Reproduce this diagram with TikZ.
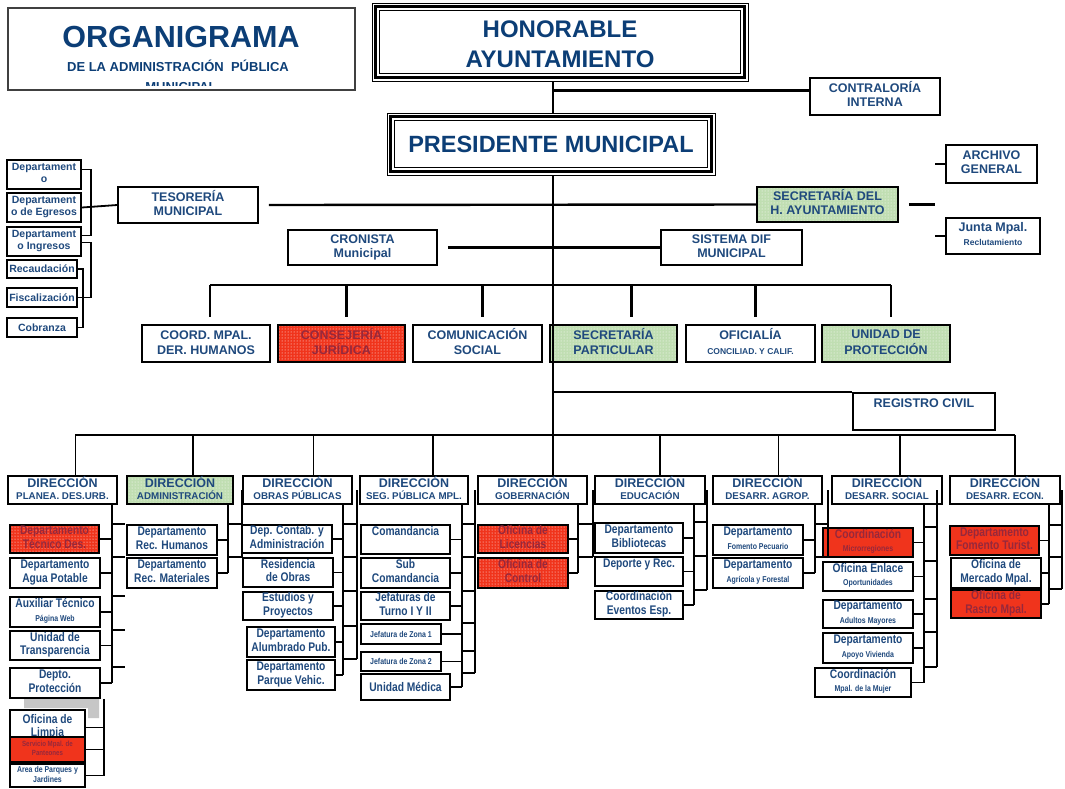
\documentclass[tikz,border=0pt]{standalone}
\usepackage{fontspec}
\setmainfont{Liberation Sans}
\newfontfamily\narrowfont{Liberation Sans}[FakeStretch=0.82]
\usetikzlibrary{patterns}
\definecolor{orgblue}{RGB}{31,73,125}
\definecolor{titleblue}{RGB}{12,62,118}
\definecolor{orgred}{RGB}{240,52,28}
\definecolor{orggreen}{RGB}{192,222,178}
\definecolor{redtext}{RGB}{150,40,60}
\newcommand{\orgsmall}[1]{{\fontsize{8.5}{9.5}\selectfont #1}}
\newcommand{\dsub}[1]{{\fontsize{9.8}{10.5}\selectfont #1}}
\newcommand{\ml}[1]{\begin{tabular}{@{}c@{}}#1\end{tabular}}
\tikzset{
  corners/.style n args={4}{minimum width={#3-#1}, minimum height={#4-#2},
    at={({(#1+#3)/2},{(#2+#4)/2})}},
  box/.style={draw, line width=1.6pt, inner sep=0pt, text=orgblue},
  plainbox/.style={box, fill=white},
  greenbox/.style={box, preaction={fill=orggreen}, pattern=dots, pattern color=white},
  redbox/.style={box, preaction={fill=orgred}, pattern=dots, pattern color=white, text=redtext},
  solidred/.style={box, fill=orgred, text=redtext},
  headfont/.style={font=\fontsize{12.5}{14}\selectfont\bfseries},
  midfont/.style={font=\fontsize{12.5}{15}\selectfont\bfseries},
  dirfont/.style={font=\fontsize{12.5}{12.5}\selectfont\bfseries},
  subfont/.style={font=\narrowfont\fontsize{12.5}{13.5}\selectfont\bfseries},
  leftfont/.style={font=\fontsize{10.5}{12}\selectfont\bfseries},
  wire/.style={line width=1.8pt},
  trunkwire/.style={line width=2.4pt},
}
\begin{document}
\begin{tikzpicture}[x=1pt, y=-1pt]
	\fill[white] (0,0) rectangle (1065,788);
	\useasboundingbox (0,0) rectangle (1065,788);

	% title block
	\node[draw, line width=1.2pt, color=black!75, inner sep=0pt, corners={8}{8}{355}{90}] (title) {};
	\node[text=titleblue, font=\fontsize{30.5}{32}\selectfont\bfseries] (orga) at (181,37) {ORGANIGRAMA};
	\node[text=titleblue, font=\fontsize{13}{14}\selectfont\bfseries] (orgb) at (178,66) {DE LA ADMINISTRACIÓN\ \ PÚBLICA};
	\begin{scope}
		\clip (10,10) rectangle (353,85);
		\node[text=titleblue, font=\fontsize{13}{14}\selectfont\bfseries] (orgc) at (181,87.5) {MUNICIPAL};
	\end{scope}

	% top of the hierarchy
	\node[box, line width=1pt, text=titleblue, font=\fontsize{24}{30}\selectfont\bfseries,
		corners={372}{3}{748}{81}] (honor) {\ml{\rule{0pt}{30pt}HONORABLE\\AYUNTAMIENTO}};
	\draw[line width=3.2pt] ([shift={(3.8,3.8)}]honor.north west) rectangle ([shift={(-3.8,-3.8)}]honor.south east);
	\draw[line width=1.2pt] ([shift={(8,8)}]honor.north west) rectangle ([shift={(-8,-8)}]honor.south east);
	\node[box, line width=1pt, text=titleblue, font=\fontsize{23.5}{26}\selectfont\bfseries,
		corners={387}{113}{715}{175}] (pres) {PRESIDENTE MUNICIPAL};
	\draw[line width=3.2pt] ([shift={(3.8,3.8)}]pres.north west) rectangle ([shift={(-3.8,-3.8)}]pres.south east);
	\draw[line width=1.2pt] ([shift={(8,8)}]pres.north west) rectangle ([shift={(-8,-8)}]pres.south east);
	\node[plainbox, headfont, corners={810}{78}{940}{115}] (contra) {\ml{CONTRALORÍA\\INTERNA}};

	% staff units
	\node[plainbox, headfont, corners={118}{187}{258}{223}] (teso) {\ml{TESORERÍA\\MUNICIPAL}};
	\node[greenbox, headfont, corners={757}{187}{898}{222}] (secr) {\ml{SECRETARÍA DEL\\H. AYUNTAMIENTO}};
	\node[plainbox, headfont, corners={946}{145}{1037}{183}] (arch) {\ml{ARCHIVO\\GENERAL}};
	\node[plainbox, headfont, corners={946}{218}{1040}{254}] (junta) {\ml{Junta Mpal.\\\orgsmall{Reclutamiento}}};
	\node[plainbox, headfont, corners={288}{230}{437}{265}] (cron) {\ml{CRONISTA\\Municipal}};
	\node[plainbox, headfont, corners={661}{230}{802}{265}] (dif) {\ml{SISTEMA DIF\\MUNICIPAL}};

	% treasury departments
	\node[plainbox, leftfont, corners={7}{160}{81}{189}] (depa) {\ml{Departament\\o}};
	\node[plainbox, leftfont, corners={7}{193}{81}{222}] (depe) {\ml{Departament\\o de Egresos}};
	\node[plainbox, leftfont, corners={7}{227}{81}{256}] (depi) {\ml{Departament\\o Ingresos}};
	\node[plainbox, leftfont, corners={7}{260}{77}{278}] (recau) {Recaudación};
	\node[plainbox, leftfont, corners={7}{288}{77}{307}] (fisca) {Fiscalización};
	\node[plainbox, leftfont, corners={7}{318}{77}{337}] (cobra) {Cobranza};

	% middle row
	\node[plainbox, midfont, corners={142}{325}{270}{362}] (cdh) {\ml{COORD. MPAL.\\DER. HUMANOS}};
	\node[redbox, midfont, corners={278}{325}{405}{362}] (cjur) {\ml{CONSEJERÍA\\JURÍDICA}};
	\node[plainbox, midfont, corners={413}{325}{542}{362}] (csoc) {\ml{COMUNICACIÓN\\SOCIAL}};
	\node[greenbox, midfont, corners={550}{325}{677}{362}] (spart) {\ml{SECRETARÍA\\PARTICULAR}};
	\node[plainbox, midfont, corners={686}{325}{815}{362}] (ofic) {\ml{OFICIALÍA\\\orgsmall{CONCILIAD. Y CALIF.}}};
	\node[greenbox, midfont, corners={822}{325}{950}{362}] (uprot) {\ml{UNIDAD DE\\PROTECCIÓN}};
	\node[plainbox, headfont, corners={853}{393}{995}{430}] (reg) {\ml{REGISTRO CIVIL\\\mbox{}}};

	% direcciones
	\node[plainbox, dirfont, corners={8}{476}{117}{504}] (dplan) {\ml{DIRECCIÓN\\\dsub{PLANEA. DES.URB.}}};
	\node[greenbox, dirfont, corners={127}{476}{233}{504}] (dadm) {\ml{DIRECCIÓN\\\dsub{ADMINISTRACIÓN}}};
	\node[plainbox, dirfont, corners={243}{476}{352}{504}] (dobr) {\ml{DIRECCIÓN\\\dsub{OBRAS PÚBLICAS}}};
	\node[plainbox, dirfont, corners={360}{476}{468}{504}] (dseg) {\ml{DIRECCIÓN\\\dsub{SEG. PÚBLICA MPL.}}};
	\node[plainbox, dirfont, corners={478}{476}{587}{504}] (dgob) {\ml{DIRECCIÓN\\\dsub{GOBERNACIÓN}}};
	\node[plainbox, dirfont, corners={595}{476}{705}{504}] (dedu) {\ml{DIRECCIÓN\\\dsub{EDUCACIÓN}}};
	\node[plainbox, dirfont, corners={713}{476}{822}{504}] (dagr) {\ml{DIRECCIÓN\\\dsub{DESARR. AGROP.}}};
	\node[plainbox, dirfont, corners={832}{476}{942}{504}] (dsoc) {\ml{DIRECCIÓN\\\dsub{DESARR. SOCIAL}}};
	\node[plainbox, dirfont, corners={950}{476}{1060}{504}] (deco) {\ml{DIRECCIÓN\\\dsub{DESARR. ECON.}}};

	% planeacion
	\node[redbox, subfont, corners={10}{525}{99}{553}] (dtec) {\ml{Departamento\\Técnico Des.}};
	\node[plainbox, subfont, corners={10}{558}{100}{588}] (agua) {\ml{Departamento\\Agua Potable}};
	\node[plainbox, subfont, corners={10}{597}{100}{627}] (auxt) {\ml{Auxiliar Técnico\\\orgsmall{Página Web}}};
	\node[plainbox, subfont, corners={10}{631}{100}{660}] (utra) {\ml{Unidad de\\Transparencia}};
	\node[plainbox, subfont, corners={10}{668}{100}{698}] (prot) {\ml{Depto.\\Protección}};
	\fill[gray!45] (24,699) rectangle (99,708) (88,708) rectangle (99,718);
	\node[plainbox, subfont, corners={10}{710}{85}{745}] (limp) {\ml{Oficina de\\Limpia}};
	\node[solidred, font=\narrowfont\fontsize{7.5}{9}\selectfont\bfseries, corners={10}{737}{85}{762}] (pant) {\ml{Servicio Mpal. de\\Panteones}};
	\node[plainbox, font=\narrowfont\fontsize{8.5}{10}\selectfont\bfseries, corners={10}{764}{85}{787}] (parq) {\ml{Area de Parques y\\Jardines}};

	% administracion
	\node[plainbox, subfont, corners={127}{525}{217}{555}] (rehum) {\ml{Departamento\\Rec. Humanos}};
	\node[plainbox, subfont, corners={127}{558}{217}{588}] (remat) {\ml{Departamento\\Rec. Materiales}};

	% obras publicas
	\node[plainbox, subfont, corners={242}{525}{332}{553}] (cont) {\ml{Dep. Contab. y\\Administración}};
	\node[plainbox, subfont, corners={243}{558}{333}{587}] (resi) {\ml{Residencia\\de Obras}};
	\node[plainbox, subfont, corners={243}{592}{333}{620}] (estu) {\ml{Estudios y\\Proyectos}};
	\node[plainbox, subfont, corners={247}{627}{335}{657}] (alum) {\ml{Departamento\\Alumbrado Pub.}};
	\node[plainbox, subfont, corners={247}{660}{335}{690}] (parv) {\ml{Departamento\\Parque Vehic.}};

	% seguridad publica
	\node[plainbox, subfont, corners={361}{525}{450}{554}] (coma) {\ml{Comandancia\\\mbox{}}};
	\node[plainbox, subfont, corners={361}{558}{450}{588}] (subc) {\ml{Sub\\Comandancia}};
	\node[plainbox, subfont, corners={361}{592}{450}{620}] (jeft) {\ml{Jefaturas de\\Turno I Y II}};
	\node[plainbox, subfont, corners={361}{624}{441}{644}] (zon1) {\orgsmall{Jefatura de Zona 1}};
	\node[plainbox, subfont, corners={361}{652}{441}{671}] (zon2) {\orgsmall{Jefatura de Zona 2}};
	\node[plainbox, subfont, corners={361}{674}{450}{700}] (umed) {Unidad Médica};

	% gobernacion
	\node[redbox, subfont, corners={478}{525}{568}{553}] (lice) {\ml{Oficina de\\Licencias}};
	\node[redbox, subfont, corners={478}{558}{568}{588}] (ctrl) {\ml{Oficina de\\Control}};

	% educacion
	\node[plainbox, subfont, corners={595}{523}{683}{553}] (bibl) {\ml{Departamento\\Bibliotecas}};
	\node[plainbox, subfont, corners={595}{557}{683}{586}] (depo) {\ml{Deporte y Rec.\\\mbox{}}};
	\node[plainbox, subfont, corners={595}{591}{683}{619}] (even) {\ml{Coordinación\\Eventos Esp.}};

	% desarrollo agropecuario
	\node[plainbox, subfont, corners={713}{525}{803}{555}] (pecu) {\ml{Departamento\\\orgsmall{Fomento Pecuario}}};
	\node[plainbox, subfont, corners={713}{558}{803}{588}] (fore) {\ml{Departamento\\\orgsmall{Agrícola y Forestal}}};

	% desarrollo social
	\node[solidred, subfont, corners={823}{528}{913}{557}] (micr) {\ml{Coordinación\\\orgsmall{Microrregiones}}};
	\node[plainbox, subfont, corners={823}{562}{913}{591}] (enla) {\ml{Oficina Enlace\\\orgsmall{Oportunidades}}};
	\node[plainbox, subfont, corners={823}{600}{913}{628}] (adul) {\ml{Departamento\\\orgsmall{Adultos Mayores}}};
	\node[plainbox, subfont, corners={823}{633}{913}{663}] (vivi) {\ml{Departamento\\\orgsmall{Apoyo Vivienda}}};
	\node[plainbox, subfont, corners={815}{668}{911}{697}] (muje) {\ml{Coordinación\\\orgsmall{Mpal. de la Mujer}}};

	% desarrollo economico
	\node[solidred, subfont, corners={950}{526}{1039}{555}] (turi) {\ml{Departamento\\Fomento Turist.}};
	\node[plainbox, subfont, corners={951}{558}{1041}{588}] (merc) {\ml{Oficina de\\Mercado Mpal.}};
	\node[solidred, subfont, corners={951}{590}{1041}{618}] (rast) {\ml{Oficina de\\Rastro Mpal.}};

	% trunk and buses
	\coordinate (tk) at (553,0);
	\coordinate (busM) at (553,435);
	\coordinate (busL) at (75,435);
	\coordinate (busR) at (1015,435);
	\coordinate (mbL) at (210,285);
	\coordinate (mbR) at (891,285);
	\coordinate (side) at (935,0);
	\draw[trunkwire] (honor.south -| tk) -- (pres.north -| tk);
	\draw[trunkwire] ([yshift=6pt]contra.west) -- ([yshift=6pt]contra.west -| tk);
	\draw[trunkwire] (pres.south -| tk) -- (busM);
	\draw[trunkwire] ([xshift=10pt]teso.east) -- (secr.west);
	\draw[trunkwire] ([xshift=10pt]secr.east) -- (secr.east -| side);
	\draw[wire] (arch.west) -- (arch.west -| side);
	\draw[wire] (junta.west) -- (junta.west -| side);
	\draw[trunkwire] ([xshift=10pt]cron.east) -- (dif.west);
	\draw[trunkwire] (mbL) -- (mbR);
	\foreach \n/\dx in {cdh/4, cjur/5, csoc/5, spart/18, ofic/5, uprot/5}
		\draw[trunkwire, shorten >=7pt] ([xshift=\dx pt]\n.north |- mbL) -- ([xshift=\dx pt]\n.north);
	\draw[wire] (reg.north west) -- (reg.north west -| tk);
	\draw[wire] (busL) -- (busR);
	\foreach \d/\dx in {dplan/13, dadm/13, dobr/16, dseg/19, dedu/10, dagr/11, dsoc/13, deco/10}
		\draw[wire] ([xshift=\dx pt]\d.north |- busL) -- ([xshift=\dx pt]\d.north);
	\draw[wire] (busM) -- (dgob.north -| tk);

	% treasury brackets
	\draw[wire] ([yshift=5pt]depa.east) -- ++(9,0) |- ([yshift=6pt]depi.east);
	\draw[wire] (depe.east) -- (teso.west);
	\draw[wire] ([yshift=-1pt]depi.east) -- ++(9,0) |- (fisca.east);
	\draw[wire] (recau.east) -- ++(5,0) |- (cobra.east);

	% planeacion rails
	\draw[wire] (dplan.south -| 112,0) -- (prot.east -| 112,0);
	\foreach \b in {dtec,agua,auxt,utra,prot}{
		\draw[wire] (\b.east) -- (\b.east -| 112,0);
		\draw[wire] (\b.north -| 112,0) -- ++(13,0);
	}
	\draw[wire] (prot.south -| 104,0) -- (parq.east -| 104,0);
	\foreach \b in {limp,pant,parq}
		\draw[wire] (\b.east) -- (\b.east -| 104,0);

	% rails of the other direcciones
	\foreach \d/\ra/\rb/\last/\boxes in {
		dadm/228/242/remat/{rehum,remat},
		dobr/343/357/parv/{cont,resi,estu,alum,parv},
		dseg/462/475/umed/{coma,subc,jeft,zon1,zon2,umed},
		dgob/578/593/ctrl/{lice,ctrl},
		dedu/694/707/even/{bibl,depo,even},
		dagr/815/828/fore/{pecu,fore},
		dsoc/924/937/muje/{micr,enla,adul,vivi,muje},
		deco/1049/1062/rast/{turi,merc,rast}}{
		\draw[wire] (\d.south -| \ra,0) -- (\last.east -| \ra,0);
		\draw[wire] (\d.east -| \rb,0) -- (\last.north -| \rb,0);
		\foreach \b in \boxes {
			\draw[wire] (\b.east) -- (\b.east -| \ra,0);
			\draw[wire] (\b.north -| \ra,0) -- (\b.north -| \rb,0);
		}
	}
\end{tikzpicture}
\end{document}
